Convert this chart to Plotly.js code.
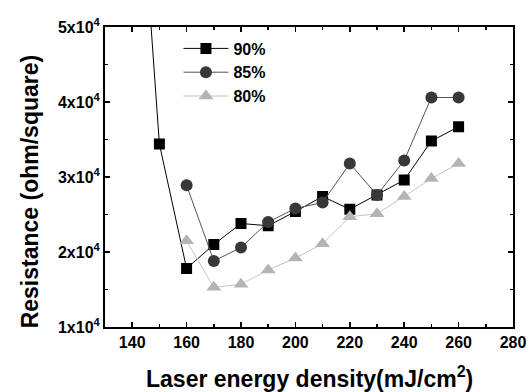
<!DOCTYPE html>
<html>
<head>
<meta charset="utf-8">
<script src="https://cdn.plot.ly/plotly-3.0.1.min.js"></script>
<style>html,body{margin:0;padding:0;background:#fff;}#chart{width:529px;height:392px;}</style>
</head>
<body>
<div id="chart"></div>
<script>
const energy90 = [140, 150, 160, 170, 180, 190, 200, 210, 220, 230, 240, 250, 260];
const res90 = [85500, 34400, 17800, 21000, 23800, 23500, 25400, 27400, 25700, 27600, 29600, 34800, 36700];
const energy85 = [160, 170, 180, 190, 200, 210, 220, 230, 240, 250, 260];
const res85 = [28900, 18800, 20600, 24000, 25800, 26600, 31800, 27600, 32200, 40600, 40600];
const energy80 = [160, 170, 180, 190, 200, 210, 220, 230, 240, 250, 260];
const res80 = [21500, 15300, 15700, 17600, 19200, 21100, 24700, 25100, 27400, 29800, 31800];
const seriesNames = ['90%', '85%', '80%'];
const xTickVals = [140, 160, 180, 200, 220, 240, 260, 280];
const xTickText = ['140', '160', '180', '200', '220', '240', '260', '280'];
const yTickVals = [10000, 20000, 30000, 40000, 50000];
const yTickText = ['1x10<sup>4</sup>', '2x10<sup>4</sup>', '3x10<sup>4</sup>', '4x10<sup>4</sup>', '5x10<sup>4</sup>'];
const xTitle = 'Laser energy density(mJ/cm<sup>2</sup>)';
const yTitle = 'Resistance (ohm/square)';

const FONT = 'Liberation Sans, Arial, sans-serif';
const bold = s => '<b>' + s + '</b>';

const traces = [
  {x: energy90, y: res90, name: bold(seriesNames[0]), mode: 'lines+markers',
   line: {color: '#000000', width: 1},
   marker: {symbol: 'square', size: 11, color: '#000000'}},
  {x: energy85, y: res85, name: bold(seriesNames[1]), mode: 'lines+markers',
   line: {color: '#555555', width: 1},
   marker: {symbol: 'circle', size: 12, color: '#383838'}},
  {x: energy80, y: res80, name: bold(seriesNames[2]), mode: 'lines+markers',
   line: {color: '#c4c4c4', width: 1},
   marker: {symbol: 'triangle-up', size: 13, color: '#b4b4b4'}}
];

const axisCommon = {
  showgrid: false, zeroline: false, showline: true, linecolor: '#000', linewidth: 2,
  mirror: 'ticks', ticks: 'inside', ticklen: 5, tickwidth: 1.5, tickcolor: '#000',
  tickfont: {family: FONT, size: 16, color: '#000', weight: 700}
};

const layout = {
  width: 529, height: 392,
  margin: {l: 105, r: 16, t: 27, b: 65},
  paper_bgcolor: '#fff', plot_bgcolor: '#fff',
  showlegend: true,
  legend: {x: 0.18, y: 0.985, xanchor: 'left', yanchor: 'top', bgcolor: 'rgba(0,0,0,0)',
           font: {family: FONT, size: 16, color: '#000'}, itemwidth: 45},
  xaxis: Object.assign({}, axisCommon, {
    range: [130, 280], tickmode: 'array', tickvals: xTickVals, ticktext: xTickText.map(bold),
    minor: {tickvals: [150, 170, 190, 210, 230, 250, 270], ticklen: 3, tickwidth: 1.5, tickcolor: '#000', ticks: 'inside'}
  }),
  yaxis: Object.assign({}, axisCommon, {
    range: [10000, 50000], tickmode: 'array', tickvals: yTickVals, ticktext: yTickText.map(bold),
    minor: {tickvals: [15000, 25000, 35000, 45000], ticklen: 3, tickwidth: 1.5, tickcolor: '#000', ticks: 'inside'}
  }),
  annotations: [
    {text: bold(xTitle), xref: 'paper', yref: 'paper', x: 0.5, y: -0.222, xanchor: 'center', yanchor: 'bottom',
     showarrow: false, font: {family: FONT, size: 23, color: '#000'}},
    {text: bold(yTitle), xref: 'paper', yref: 'paper', x: -0.184, y: 0.452, xanchor: 'center', yanchor: 'middle',
     textangle: -90, showarrow: false, font: {family: FONT, size: 23, color: '#000'}}
  ]
};

Plotly.newPlot('chart', traces, layout, {displayModeBar: false, staticPlot: true});
</script>
</body>
</html>
